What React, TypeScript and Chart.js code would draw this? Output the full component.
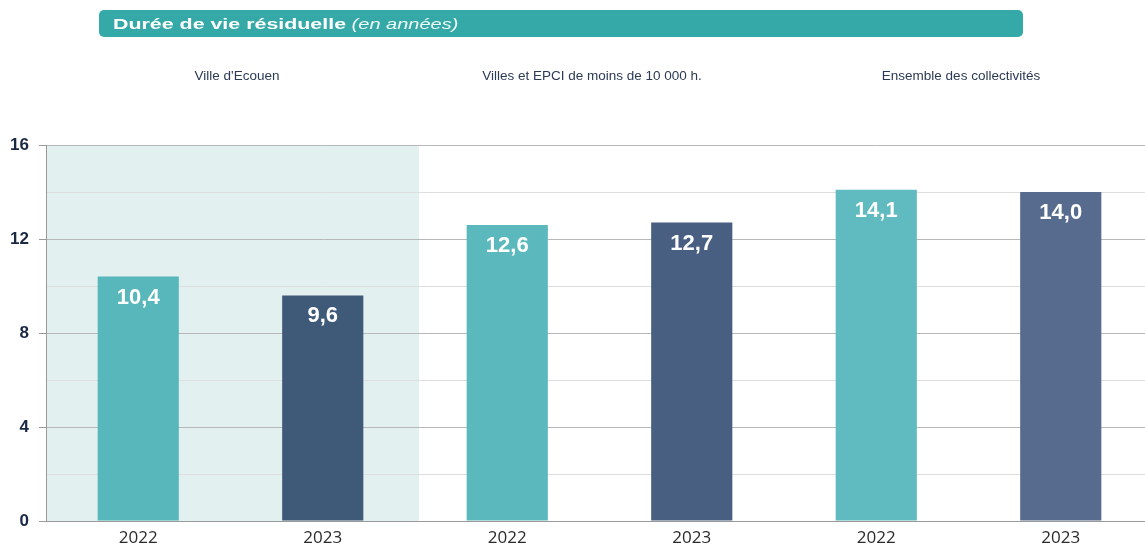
import React, { useEffect, useRef } from 'react';
import { Chart, registerables } from 'chart.js';

Chart.register(...registerables);

const categories = ['2022', '2023', '2022', '2023', '2022', '2023'];
const values = [10.4, 9.6, 12.6, 12.7, 14.1, 14.0];
const valueLabels = ['10,4', '9,6', '12,6', '12,7', '14,1', '14,0'];
const barColors = ['#57b7ba', '#3f5979', '#5bb9bd', '#485f82', '#5fbbbf', '#566b8d'];
const groupLabels = ["Ville d'Ecouen", 'Villes et EPCI de moins de 10 000 h.', 'Ensemble des collectivités'];
const groupCenters = [237, 592, 961];
const yMax = 16;
const yStep = 2;
const yLabelEvery = 4;
const shadedCategories = 2;

const shadePlugin = {
  id: 'shade',
  beforeDraw(chart: any) {
    const { ctx, chartArea, scales } = chart;
    const x = scales.x;
    const left = chartArea.left;
    const right = (x.getPixelForValue(shadedCategories - 1) + x.getPixelForValue(shadedCategories)) / 2 + 4;
    ctx.save();
    ctx.fillStyle = '#e3f0f0';
    ctx.fillRect(left, chartArea.top, right - left, chartArea.bottom - chartArea.top);
    ctx.restore();
  },
};

const labelPlugin = {
  id: 'valueLabels',
  afterDatasetsDraw(chart: any) {
    const { ctx } = chart;
    const meta = chart.getDatasetMeta(0);
    ctx.save();
    ctx.fillStyle = '#ffffff';
    ctx.font = 'bold 22px "Liberation Sans", Arial, sans-serif';
    ctx.textAlign = 'center';
    ctx.textBaseline = 'middle';
    meta.data.forEach((bar: any, i: number) => {
      ctx.fillText(valueLabels[i], bar.x, bar.y + 21);
    });
    ctx.restore();
  },
};

export default function App() {
  const canvasRef = useRef<HTMLCanvasElement | null>(null);

  useEffect(() => {
    if (!canvasRef.current) return;
    const chart = new Chart(canvasRef.current, {
      type: 'bar',
      data: {
        labels: categories,
        datasets: [
          {
            data: values,
            backgroundColor: barColors,
            borderWidth: 0,
            barPercentage: 0.44,
            categoryPercentage: 1,
          },
        ],
      },
      options: {
        animation: false,
        responsive: false,
        maintainAspectRatio: false,
        layout: { padding: { top: 145, right: 0, left: 0, bottom: 0 } },
        plugins: {
          legend: { display: false },
          tooltip: { enabled: false },
        },
        scales: {
          x: {
            grid: { display: false, drawTicks: false },
            border: { display: true, color: '#9a9a9a' },
            afterFit: (s: any) => {
              s.height = 23;
            },
            ticks: {
              color: '#2a2a2a',
              padding: 9,
              maxRotation: 0,
              font: { family: '"Open Sans", "Noto Sans", sans-serif', size: 17, lineHeight: 1 },
            },
          },
          y: {
            min: 0,
            max: yMax,
            afterFit: (s: any) => {
              s.width = 46;
            },
            border: { display: true, color: '#9a9a9a' },
            grid: {
              color: (c: any) => (c.tick && c.tick.value % yLabelEvery === 0 ? '#b8b8b8' : '#dedede'),
              tickColor: (c: any) => (c.tick && c.tick.value % yLabelEvery === 0 ? '#9a9a9a' : 'rgba(0,0,0,0)'),
              tickLength: 7,
              lineWidth: 1,
            },
            ticks: {
              stepSize: yStep,
              padding: 10,
              color: '#1a2844',
              font: { family: '"Liberation Sans", Arial, sans-serif', size: 17, weight: 'bold' },
              callback: (v: any) => (Number(v) % yLabelEvery === 0 ? String(v) : ''),
            },
          },
        },
      },
      plugins: [shadePlugin, labelPlugin],
    });
    return () => chart.destroy();
  }, []);

  return (
    <div
      style={{
        position: 'fixed',
        left: 0,
        top: 0,
        width: 1145,
        height: 544,
        overflow: 'hidden',
        background: '#ffffff',
      }}
    >
      <canvas
        ref={canvasRef}
        width={1153}
        height={544}
        style={{ position: 'absolute', left: 0, top: 0, width: 1153, height: 544 }}
      />
      <div
        style={{
          position: 'absolute',
          left: 99,
          top: 10,
          width: 924,
          height: 27,
          borderRadius: 5,
          background: '#35a9a7',
        }}
      />
      <div
        style={{
          position: 'absolute',
          left: 113,
          top: 10,
          height: 27,
          color: '#ffffff',
          fontFamily: '"Liberation Sans", Arial, sans-serif',
          lineHeight: '27px',
          whiteSpace: 'nowrap',
          transform: 'scaleX(1.38)',
          transformOrigin: 'left center',
        }}
      >
        <span style={{ fontWeight: 'bold', fontSize: 15.5 }}>Durée de vie résiduelle</span>
        <span style={{ fontStyle: 'italic', fontSize: 14.5, color: '#f2fbfb' }}> (en années)</span>
      </div>
      {groupLabels.map((g, i) => (
        <div
          key={i}
          style={{
            position: 'absolute',
            left: groupCenters[i] - 150,
            width: 300,
            top: 67,
            textAlign: 'center',
            fontFamily: '"Liberation Sans", Arial, sans-serif',
            fontSize: 13.5,
            color: '#2c3a55',
            lineHeight: '18px',
            whiteSpace: 'nowrap',
          }}
        >
          {g}
        </div>
      ))}
    </div>
  );
}
